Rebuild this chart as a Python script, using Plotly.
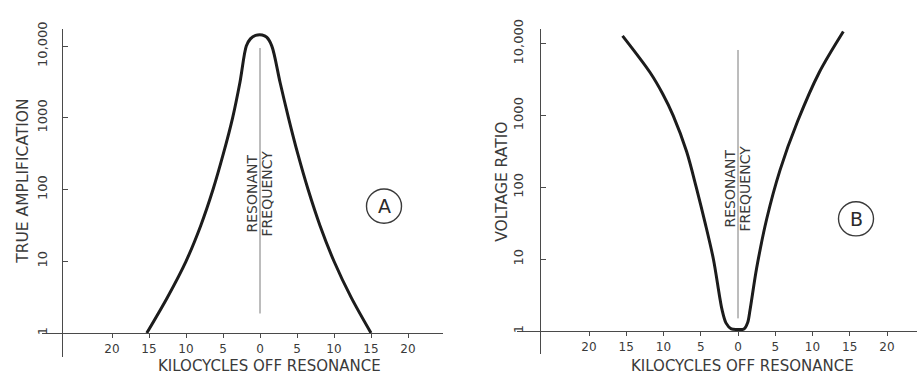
import plotly.graph_objects as go

W, H = 917, 374

# ---------------- data ----------------
# Panel A: true amplification vs kilocycles off resonance
kc_a = [-15.3, -12.5, -10.0, -8.0, -6.35, -4.95, -3.7, -2.7, -1.85, -1.3, -0.6,
        0.3, 0.9, 1.6, 2.7, 3.85, 5.1, 6.5, 8.1, 10.0, 12.3, 15.0]
amp_a = [1, 3.16, 10, 31.6, 100, 316, 1000, 3160, 10000, 12600, 14100,
         14300, 13300, 10000, 3160, 1000, 316, 100, 31.6, 10, 3.16, 1]

# Panel B: voltage ratio vs kilocycles off resonance
kc_b = [-15.5, -11.8, -10.1, -8.7, -6.9, -5.6, -4.4, -3.3, -2.5, -2.15, -1.6, -0.9, 0.0,
        0.8, 1.3, 1.61, 2.51, 3.85, 5.64, 8.0, 10.9, 14.14]
ratio_b = [12900, 3980, 2000, 1000, 316, 100, 31.6, 10, 3.16, 2.0, 1.29, 1.07, 1.05,
           1.07, 1.32, 1.95, 7.6, 36.3, 174, 832, 3980, 14800]

x_tickvals = [-20, -15, -10, -5, 0, 5, 10, 15, 20]
x_ticktext = ["20", "15", "10", "5", "0", "5", "10", "15", "20"]
y_tickvals = [1, 10, 100, 1000, 10000]
y_ticktext = ["1", "10", "100", "1000", "10,000"]

x_title = "KILOCYCLES OFF RESONANCE"
y_title_a = "TRUE AMPLIFICATION"
y_title_b = "VOLTAGE RATIO"
res_line1, res_line2 = "RESONANT", "FREQUENCY"

# ---------------- helpers (layout in pixels) ----------------
def px(p):
    return p / W

def py(p):
    return 1 - p / H

INK = "#1c1c1c"
AXC = "#4a4a4a"
TXT = "#3a3a3a"
FONT = "DejaVu Sans"

fig = go.Figure()

fig.add_trace(go.Scatter(x=kc_a, y=amp_a, mode="lines", xaxis="x", yaxis="y",
                         line=dict(color=INK, width=3, shape="spline", smoothing=0.9),
                         hoverinfo="skip", showlegend=False))
fig.add_trace(go.Scatter(x=kc_b, y=ratio_b, mode="lines", xaxis="x2", yaxis="y2",
                         line=dict(color=INK, width=3, shape="spline", smoothing=0.9),
                         hoverinfo="skip", showlegend=False))

def xaxis_cfg(dom, rng, pos, ticks="outside", labels=True, line=True, overlay=None):
    d = dict(domain=[px(dom[0]), px(dom[1])], range=rng, anchor="free", position=py(pos),
             showgrid=False, zeroline=False, showline=line, linecolor=AXC, linewidth=1.3,
             ticks=ticks, ticklen=4, tickwidth=1.2, tickcolor=AXC,
             tickvals=x_tickvals, ticktext=x_ticktext, showticklabels=labels,
             ticklabelstandoff=0,
             tickfont=dict(family=FONT, size=12, color=TXT), fixedrange=True)
    if overlay:
        d["overlaying"] = overlay
    return d

def yaxis_cfg(dom, rng, pos, standoff):
    return dict(type="log", domain=[py(dom[1]), py(dom[0])], range=rng, anchor="free",
                position=px(pos), showgrid=False, zeroline=False, showline=True,
                linecolor=AXC, linewidth=1.3, ticks="inside", ticklen=5, tickwidth=1.2,
                tickcolor=AXC, tickvals=y_tickvals, ticktext=y_ticktext, tickangle=-90,
                ticklabelstandoff=standoff,
                tickfont=dict(family=FONT, size=13, color=TXT), fixedrange=True)

# Panel A geometry (pixels): zero kc at 260, 7.4 px per kc; 1 at y=332, 73.5 px/decade
xa_rng = [(42 - 260) / 7.4, (443 - 260) / 7.4]
ya_rng = [-(357 - 332) / 73.5, (332 - 20) / 73.5]
# Panel B geometry: zero kc at 738, 7.45 px per kc; 1 at y=330, 73.6 px/decade
xb_rng = [(517 - 738) / 7.45, (917 - 738) / 7.45]
yb_rng = [-(353 - 330) / 73.6, (330 - 20) / 73.6]

fig.update_layout(
    width=W, height=H, margin=dict(l=0, r=0, t=0, b=0),
    paper_bgcolor="white", plot_bgcolor="rgba(0,0,0,0)",
    showlegend=False,
    xaxis=xaxis_cfg((42, 443), xa_rng, 332),
    yaxis=yaxis_cfg((20, 357), ya_rng, 62, 10),
    xaxis2=xaxis_cfg((517, 917), xb_rng, 330),
    yaxis2=yaxis_cfg((20, 353), yb_rng, 540, 12),
    xaxis3=xaxis_cfg((42, 443), xa_rng, 332, ticks="inside", labels=False,
                     line=False, overlay="x"),
    xaxis4=xaxis_cfg((517, 917), xb_rng, 330, ticks="inside", labels=False,
                     line=False, overlay="x2"),
)

shapes = []
annotations = []

# resonant-frequency lines at 0 kc
shapes.append(dict(type="line", xref="x", yref="paper", x0=0, x1=0, y0=py(312), y1=py(40),
                   line=dict(color="#7a7a7a", width=1)))
shapes.append(dict(type="line", xref="x2", yref="paper", x0=0, x1=0, y0=py(317), y1=py(42),
                   line=dict(color="#7a7a7a", width=1)))

# circled panel letters
for cx, cy, letter in [(384, 202, "A"), (856, 215, "B")]:
    r = 17.5
    shapes.append(dict(type="circle", xref="paper", yref="paper",
                       x0=px(cx - r), x1=px(cx + r), y0=py(cy + r), y1=py(cy - r),
                       line=dict(color="#3a3a3a", width=1.4)))
    annotations.append(dict(x=px(cx), y=py(cy), xref="paper", yref="paper", text=letter,
                            showarrow=False, font=dict(family=FONT, size=19, color="#2a2a2a"),
                            xanchor="center", yanchor="middle"))

def ann(x, y, text, size, angle=0):
    annotations.append(dict(x=px(x), y=py(y), xref="paper", yref="paper", text=text,
                            showarrow=False, textangle=angle,
                            font=dict(family=FONT, size=size, color=TXT),
                            xanchor="center", yanchor="middle"))

# axis titles
ann(269, 366, x_title, 15)
ann(742, 366, x_title, 15)
ann(23, 177, y_title_a, 15.5, -90)
ann(502, 177, y_title_b, 15.5, -90)

# resonant frequency labels
ann(252, 189, res_line1, 14, -90)
ann(267, 189, res_line2, 14, -90)
ann(730, 184, res_line1, 14, -90)
ann(745, 184, res_line2, 14, -90)

fig.update_layout(shapes=shapes, annotations=annotations)

fig.write_html("out.html", config={"displayModeBar": False},
               post_script="document.body.style.margin='0px';")
